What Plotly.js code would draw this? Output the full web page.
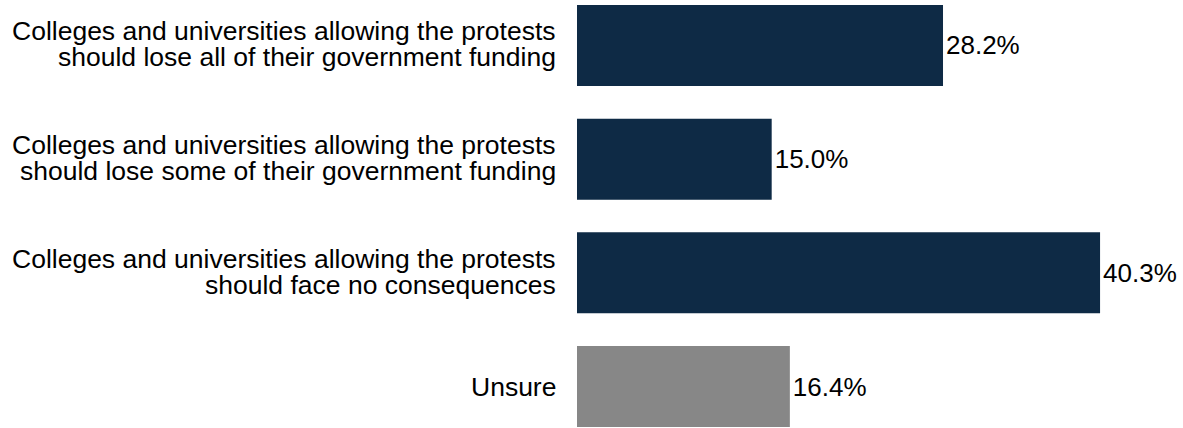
<!DOCTYPE html>
<html>
<head>
<meta charset="utf-8">
<script src="https://cdn.plot.ly/plotly-3.0.1.min.js"></script>
<style>html,body{margin:0;padding:0;background:#fff;}#chart{width:1183px;height:428px;}</style>
</head>
<body>
<div id="chart"></div>
<script>
const categories = ["All funding", "Some funding", "No consequences", "Unsure"];
const categoryLabelLines = [
  ["Colleges and universities allowing the protests", "should lose all of their government funding"],
  ["Colleges and universities allowing the protests", "should lose some of their government funding"],
  ["Colleges and universities allowing the protests", "should face no consequences"],
  ["Unsure"]
];
const values = [28.2, 15.0, 40.3, 16.4];
const labels = ["28.2%", "15.0%", "40.3%", "16.4%"];
const colors = ["#0e2a45", "#0e2a45", "#0e2a45", "#878787"];

const FONT = "Liberation Sans, Arial, sans-serif";

const trace = {
  type: "bar",
  orientation: "h",
  x: values,
  y: categories,
  text: labels,
  textposition: "outside",
  cliponaxis: false,
  constraintext: "none",
  textfont: {family: FONT, size: 26, color: "#000"},
  marker: {color: colors},
  hoverinfo: "none"
};

const annotations = [];
categoryLabelLines.forEach((lines, i) => {
  const n = lines.length;
  lines.forEach((ln, j) => {
    const shift = n === 1 ? 0 : (j === 0 ? 14 : -12);
    annotations.push({
      xref: "paper", yref: "y", x: 0, y: categories[i],
      xanchor: "right", yanchor: "middle", xshift: -19, yshift: shift,
      text: ln, showarrow: false,
      font: {family: FONT, size: 26.5, color: "#000"}
    });
  });
});

const layout = {
  width: 1183, height: 428,
  margin: {l: 577, r: 0, t: 5, b: 1, pad: 0},
  paper_bgcolor: "#fff", plot_bgcolor: "#fff",
  bargap: 0.287,
  showlegend: false,
  font: {family: FONT, size: 26, color: "#000"},
  xaxis: {range: [0, 46.69], showgrid: false, zeroline: false, showticklabels: false, showline: false, ticks: ""},
  yaxis: {type: "category", autorange: false, range: [3.356, -0.356], showgrid: false, zeroline: false,
          showline: false, ticks: "", showticklabels: false},
  annotations: annotations
};

Plotly.newPlot("chart", [trace], layout, {staticPlot: true, displayModeBar: false});
</script>
</body>
</html>
